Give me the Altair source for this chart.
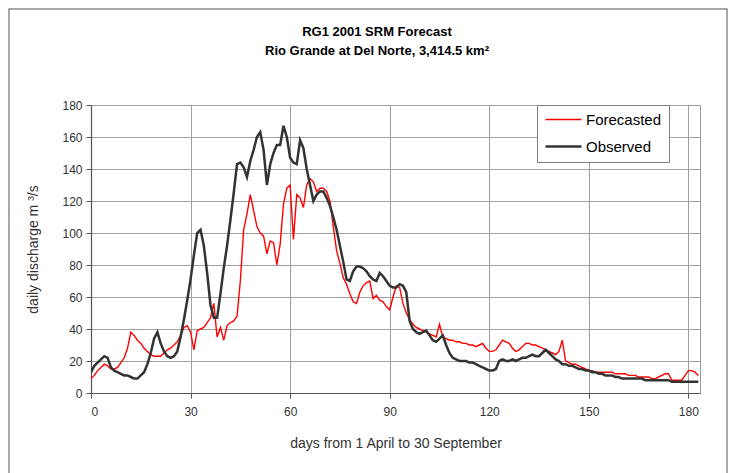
import altair as alt
import pandas as pd

FONT = "Liberation Sans, Arial, sans-serif"

days = list(range(184))

observed = [
    13, 17, 19, 21, 23, 22, 16, 14, 13, 12,
    11, 11, 10, 9, 9, 11, 13, 18, 25, 34,
    38, 31, 26, 23, 22, 23, 26, 35, 46, 58,
    71, 86, 100, 102, 92, 75, 55, 47, 47, 62,
    78, 92, 108, 125, 143, 144, 141, 135, 145, 152,
    160, 163, 152, 130, 143, 150, 155, 155, 167, 160,
    147, 144, 143, 158, 153, 140, 130, 120, 124, 126,
    126, 122, 117, 110, 102, 92, 82, 71, 70, 76,
    79, 79, 78, 76, 73, 71, 70, 75, 73, 70,
    67, 66, 66, 68, 67, 63, 45, 40, 38, 37,
    38, 39, 36, 33, 32, 34, 36, 30, 25, 22,
    21, 20, 20, 20, 19, 19, 18, 17, 16, 15,
    14, 14, 15, 20, 21, 20, 20, 21, 20, 21,
    22, 22, 23, 24, 23, 23, 25, 27, 25, 23,
    21, 20, 18, 18, 17, 17, 16, 15, 15, 14,
    14, 13, 13, 12, 12, 11, 11, 11, 10, 10,
    9, 9, 9, 9, 9, 9, 9, 8, 8, 8,
    8, 8, 8, 8, 8, 7, 7, 7, 7, 7,
    7, 7, 7, 7,
]

forecasted = [
    9, 11, 14, 16, 18, 17, 15, 15, 16, 19,
    22, 28, 38, 36, 33, 31, 28, 26, 24, 23,
    23, 23, 25, 27, 28, 30, 32, 36, 41, 42,
    38, 27, 39, 40, 41, 44, 47, 56, 35, 41,
    33, 42, 44, 45, 48, 70, 102, 112, 124, 114,
    104, 100, 98, 87, 95, 94, 80, 93, 118, 128,
    130, 96, 124, 122, 116, 130, 134, 132, 126, 128,
    128, 126, 120, 104, 89, 81, 72, 68, 62, 57,
    56, 63, 67, 69, 70, 59, 61, 58, 57, 54,
    52, 60, 67, 66, 56, 50, 46, 43, 41, 40,
    39, 38, 37, 36, 35, 43, 35, 34, 33, 33,
    32, 32, 31, 31, 30, 30, 29, 30, 31, 28,
    26, 26, 27, 30, 33, 32, 31, 28, 26, 27,
    29, 31, 31, 30, 30, 29, 28, 27, 26, 25,
    24, 26, 33, 20, 19, 18, 18, 17, 16, 15,
    14, 14, 13, 13, 13, 13, 13, 13, 12, 12,
    12, 12, 11, 11, 11, 10, 10, 10, 10, 9,
    9, 10, 11, 12, 12, 8, 8, 8, 8, 11,
    14, 14, 13, 11,
]

series_names = ["Forecasted", "Observed"]
series_colors = ["#ff0000", "#333333"]
series_widths = [1.4, 2.5]
x_ticks = [0, 30, 60, 90, 120, 150, 180]
y_ticks = [0, 20, 40, 60, 80, 100, 120, 140, 160, 180]

title_line1 = "RG1 2001 SRM Forecast"
title_line2 = "Rio Grande at Del Norte, 3,414.5 km\u00b2"
x_title = "days from 1 April to 30 September"
y_title = "daily discharge m \u00b3/s"

df = pd.DataFrame({
    "day": days + days,
    "value": forecasted + observed,
    "series": [series_names[0]] * len(days) + [series_names[1]] * len(days),
})

legend = alt.Legend(
    orient="none", legendX=446, legendY=0, title=None,
    strokeColor="#808080", fillColor="white", padding=7,
    symbolType="M-1,0H5", symbolSize=144, labelOffset=27,
    labelFontSize=15, labelFont=FONT, labelColor="#000000",
    rowPadding=11,
)

lines = alt.Chart(df).mark_line(clip=True).encode(
    x=alt.X("day:Q", scale=alt.Scale(domain=[0, 183.5], nice=False, zero=False),
            axis=alt.Axis(values=x_ticks, title=x_title, grid=True,
                          titleY=50, titleBaseline="middle")),
    y=alt.Y("value:Q", scale=alt.Scale(domain=[0, 180], nice=False),
            axis=alt.Axis(values=y_ticks, title=y_title, grid=True,
                          titleX=-58, titleY=144, titleBaseline="middle")),
    color=alt.Color("series:N", scale=alt.Scale(domain=series_names, range=series_colors),
                    legend=legend),
    strokeWidth=alt.StrokeWidth("series:N", scale=alt.Scale(domain=series_names, range=series_widths),
                                legend=legend),
)

frame = alt.Chart(pd.DataFrame({"k": [0]})).mark_rect(
    clip=False, fill=None, stroke="#8c8c8c", strokeWidth=1.5
).encode(
    x=alt.value(-82), x2=alt.value(636), y=alt.value(-96), y2=alt.value(420)
)

titles = alt.Chart(pd.DataFrame({"t": [title_line1, title_line2], "yy": [-69, -50]})).mark_text(
    clip=False, font=FONT, fontSize=13, fontWeight="bold", color="#000000",
    align="center", baseline="alphabetic"
).encode(
    x=alt.value(286), y=alt.Y("yy:Q", scale=None), text="t:N"
)

chart = alt.layer(frame, lines, titles).properties(
    width=609, height=288,
    autosize=alt.AutoSizeParams(type="none"),
    padding={"left": 83, "top": 97, "right": 29, "bottom": 80},
).configure_view(
    stroke="#999999", strokeWidth=1
).configure_axis(
    gridColor="#a0a0a0", gridWidth=1, domainColor="#555555", domainWidth=1.2,
    tickColor="#555555", tickSize=5, labelFont=FONT, labelFontSize=12, labelColor="#333333",
    titleFont=FONT, titleFontSize=14, titleFontWeight="normal", titleColor="#333333",
).configure_axisX(
    labelPadding=8
).configure_axisY(
    labelPadding=4
)

chart.save("out.html", embed_options={"renderer": "svg", "actions": False})
